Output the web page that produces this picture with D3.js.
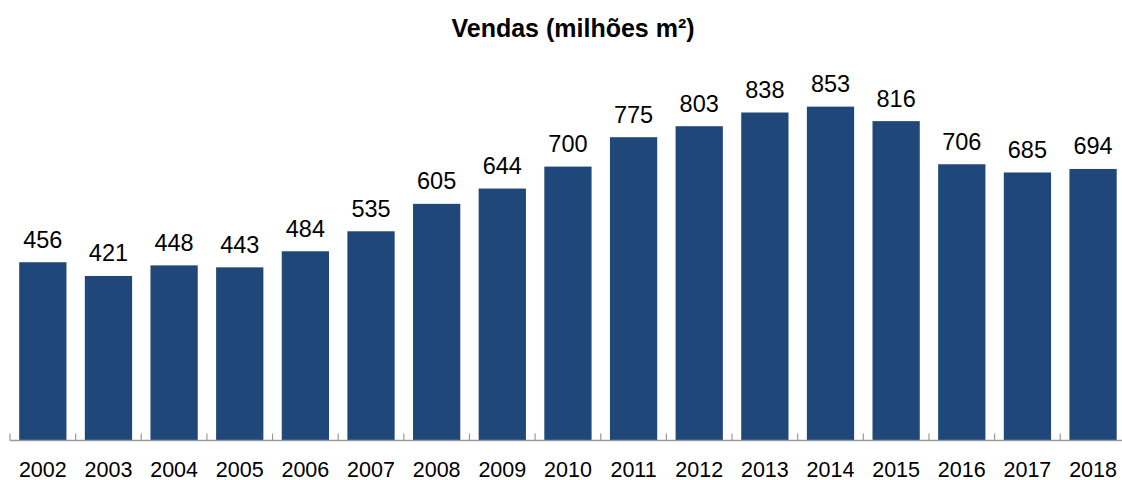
<!DOCTYPE html>
<html>
<head>
<meta charset="utf-8">
<script src="https://cdn.jsdelivr.net/npm/d3@7"></script>
<style>
  body { margin: 0; background: #fff; }
  text { font-family: "Liberation Sans", Arial, Helvetica, sans-serif; fill: #000; }
</style>
</head>
<body>
<div id="chart"></div>
<script>
// data
var years = ["2002","2003","2004","2005","2006","2007","2008","2009","2010",
             "2011","2012","2013","2014","2015","2016","2017","2018"];
var sales = [456, 421, 448, 443, 484, 535, 605, 644, 700,
             775, 803, 838, 853, 816, 706, 685, 694];
var title = "Vendas (milhões m²)";

var width = 1122, height = 480;

var svg = d3.select("#chart").append("svg")
    .attr("width", width)
    .attr("height", height);

var x = d3.scaleBand()
    .domain(years)
    .range([10, 10 + 17 * 65.64])
    .paddingInner(0.28)
    .paddingOuter(0.14);

var y = d3.scaleLinear()
    .domain([0, 1000])
    .range([441, 49]);

var barColor = "#1f477a";

// title
svg.append("text")
    .attr("x", 573)
    .attr("y", 36.5)
    .attr("text-anchor", "middle")
    .style("font-size", "25px")
    .style("font-weight", "bold")
    .text(title);

// bars
svg.selectAll(".bar")
    .data(sales)
  .enter().append("rect")
    .attr("class", "bar")
    .attr("x", function(d, i) { return x(years[i]); })
    .attr("width", x.bandwidth())
    .attr("y", function(d) { return y(d); })
    .attr("height", function(d) { return y(0) - y(d); })
    .attr("fill", barColor);

// value labels
svg.selectAll(".val")
    .data(sales)
  .enter().append("text")
    .attr("class", "val")
    .attr("x", function(d, i) { return x(years[i]) + x.bandwidth() / 2; })
    .attr("y", function(d) { return y(d) - 14.6; })
    .attr("text-anchor", "middle")
    .style("font-size", "23.5px")
    .text(function(d) { return d; });

// axis line + ticks between categories
var axisY = 440.5;
svg.append("line")
    .attr("x1", 10).attr("x2", width)
    .attr("y1", axisY).attr("y2", axisY)
    .attr("stroke", "#9a9a9a")
    .attr("stroke-width", 1.5);

var edgeOff = (x.step() - x.bandwidth()) / 2;
svg.selectAll(".tick")
    .data(years)
  .enter().append("line")
    .attr("class", "tick")
    .attr("x1", function(d) { return x(d) - edgeOff; })
    .attr("x2", function(d) { return x(d) - edgeOff; })
    .attr("y1", axisY - 7)
    .attr("y2", axisY)
    .attr("stroke", "#9a9a9a")
    .attr("stroke-width", 1.2);

// year labels
svg.selectAll(".yr")
    .data(years)
  .enter().append("text")
    .attr("class", "yr")
    .attr("x", function(d) { return x(d) + x.bandwidth() / 2; })
    .attr("y", 476.5)
    .attr("text-anchor", "middle")
    .style("font-size", "21.5px")
    .text(function(d) { return d; });
</script>
</body>
</html>
